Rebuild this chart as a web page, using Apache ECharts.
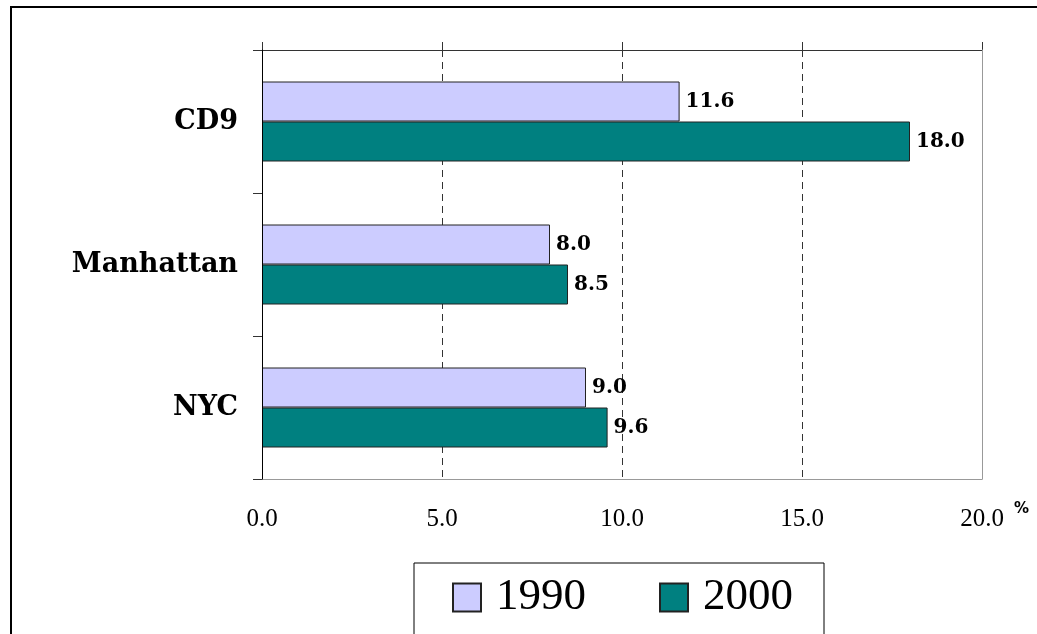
<!DOCTYPE html>
<html>
<head>
<meta charset="utf-8">
<script src="https://cdn.jsdelivr.net/npm/echarts@6/dist/echarts.min.js"></script>
<style>
  html, body { margin: 0; padding: 0; background: #fff; }
  #chart { width: 1037px; height: 634px; }
</style>
</head>
<body>
<div id="chart"></div>
<script>
// data
var categories = ['CD9', 'Manhattan', 'NYC'];
var values1990 = [11.6, 8.0, 9.0];
var values2000 = [18.0, 8.5, 9.6];
var seriesNames = ['1990', '2000'];
var xTicks = { min: 0, max: 20, interval: 5 };

var serif = '"DejaVu Serif", serif';
var thinSerif = '"Liberation Serif", "Times New Roman", serif';

var chart = echarts.init(document.getElementById('chart'));

function barLabel() {
  return {
    show: true,
    position: 'right',
    distance: 6,
    color: '#000',
    fontFamily: serif,
    fontWeight: 'bold',
    fontSize: 20,
    formatter: function (p) { return p.value.toFixed(1); }
  };
}

chart.setOption({
  animation: false,
  backgroundColor: '#fff',
  grid: { left: 262, right: 55, top: 50, bottom: 155 },
  graphic: [
    // outer frame, mostly cut by the picture edge
    { type: 'rect', shape: { x: 11, y: 7, width: 1100, height: 700 },
      style: { fill: 'none', stroke: '#000', lineWidth: 2 }, z: -1 },
    { type: 'text', left: 1014, top: 502,
      style: { text: '%', font: 'bold 15px "DejaVu Sans", sans-serif', fill: '#000' } }
  ],
  legend: {
    left: 414, top: 563,
    data: seriesNames,
    orient: 'horizontal',
    itemWidth: 28, itemHeight: 28,
    itemGap: 73,
    padding: [12, 31, 40, 38],
    borderColor: '#000', borderWidth: 1,
    backgroundColor: '#fff',
    textStyle: {
      fontFamily: thinSerif, fontSize: 45, lineHeight: 44, color: '#000',
      padding: [0, 0, 0, 10]
    },
    icon: 'rect'
  },
  xAxis: [
    {
      // bottom: labels + gray plot border
      type: 'value', position: 'bottom',
      min: xTicks.min, max: xTicks.max, interval: xTicks.interval,
      axisLine: { show: true, onZero: false, lineStyle: { color: '#999', width: 1 } },
      axisTick: { show: false },
      splitLine: { show: false },
      axisLabel: {
        margin: 28, color: '#000', fontFamily: thinSerif, fontSize: 25,
        formatter: function (v) { return v.toFixed(1); }
      }
    },
    {
      // top: axis line with ticks and dashed grid
      type: 'value', position: 'top',
      min: xTicks.min, max: xTicks.max, interval: xTicks.interval,
      axisLine: { show: true, onZero: false, lineStyle: { color: '#333', width: 1 } },
      axisTick: { show: true, length: 8, lineStyle: { color: '#333' } },
      axisLabel: { show: false },
      splitLine: { show: true, lineStyle: { color: '#333', type: [7, 5], width: 1 } },
      z: 0
    }
  ],
  yAxis: [
    {
      type: 'category', inverse: true, position: 'left',
      data: categories,
      axisLine: { show: true, onZero: false, lineStyle: { color: '#000', width: 1 } },
      axisTick: { show: true, length: 9, lineStyle: { color: '#333' } },
      axisLabel: {
        margin: 24, color: '#000', fontFamily: serif, fontWeight: 'bold', fontSize: 27
      },
      z: 5
    },
    {
      // gray right border of the plot
      type: 'category', inverse: true, position: 'right',
      data: categories,
      axisLine: { show: true, onZero: false, lineStyle: { color: '#999', width: 1 } },
      axisTick: { show: false },
      axisLabel: { show: false },
      z: 5
    }
  ],
  series: [
    {
      name: seriesNames[0], type: 'bar', xAxisIndex: 0, yAxisIndex: 0,
      data: values1990,
      barWidth: 40, barGap: '0%',
      itemStyle: { color: '#ccccff', borderColor: '#222', borderWidth: 1 },
      label: barLabel()
    },
    {
      name: seriesNames[1], type: 'bar', xAxisIndex: 0, yAxisIndex: 0,
      data: values2000,
      barWidth: 40, barGap: '0%',
      itemStyle: { color: '#008080', borderColor: '#222', borderWidth: 1 },
      label: barLabel()
    }
  ]
});
</script>
</body>
</html>
